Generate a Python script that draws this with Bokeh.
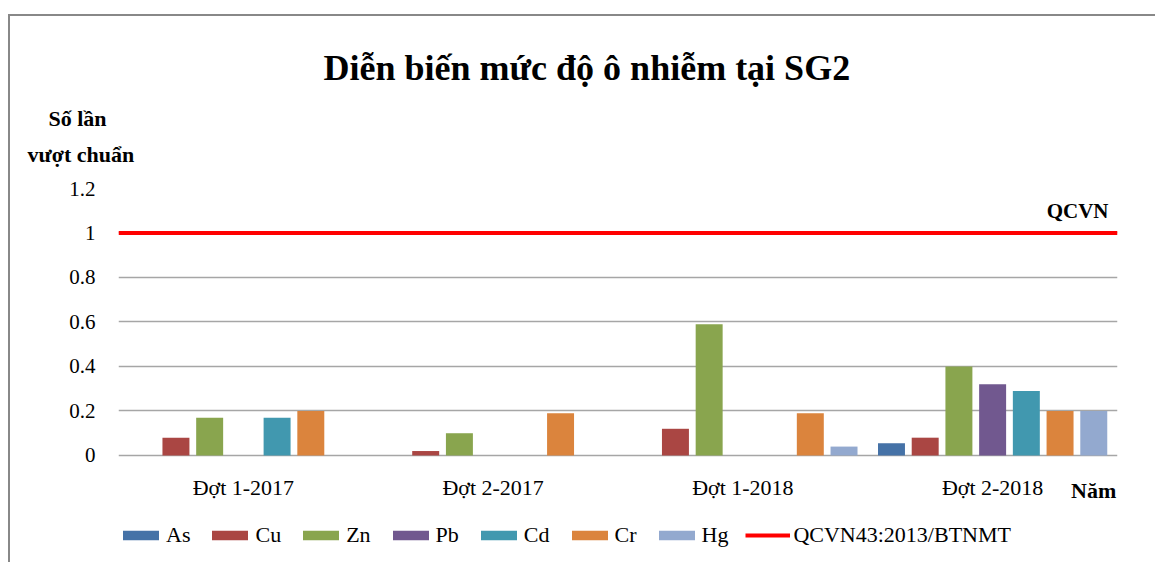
from bokeh.plotting import figure
from bokeh.models import Range1d, Legend, LegendItem, FixedTicker, ColumnDataSource, Title, Label
from bokeh.core.properties import value
from bokeh.transform import dodge
from bokeh.embed import file_html
from bokeh.resources import INLINE

# ---- data ----
periods = ["Đợt 1-2017", "Đợt 2-2017", "Đợt 1-2018", "Đợt 2-2018"]
metals = ["As", "Cu", "Zn", "Pb", "Cd", "Cr", "Hg"]
As = [0, 0, 0, 0.055]
Cu = [0.08, 0.02, 0.12, 0.08]
Zn = [0.17, 0.10, 0.59, 0.40]
Pb = [0, 0, 0, 0.32]
Cd = [0.17, 0, 0, 0.29]
Cr = [0.20, 0.19, 0.19, 0.20]
Hg = [0, 0, 0.04, 0.20]
qcvn = 1.0
qcvn_name = "QCVN43:2013/BTNMT"
y_ticks = [0, 0.2, 0.4, 0.6, 0.8, 1, 1.2]
y_tick_labels = ["0", "0.2", "0.4", "0.6", "0.8", "1", "1.2"]
colors = ["#4572A7", "#AA4643", "#89A54E", "#71588F", "#4198AF", "#DB843D", "#93A9CF"]

FONT = "Liberation Serif"
n = len(periods)
xc = [i + 0.5 for i in range(n)]  # category centres on the x scale

src = ColumnDataSource(dict(xc=xc, period=periods, As=As, Cu=Cu, Zn=Zn, Pb=Pb, Cd=Cd, Cr=Cr, Hg=Hg,
                            ly=[-0.144] * n))

# the frame reaches the bottom of the canvas so the category labels and the legend stay inside it
p = figure(x_range=Range1d(0, n), y_range=Range1d(-0.49, 1.2),
           width=1147, height=548, output_backend="svg", toolbar_location=None,
           x_axis_location=None,
           min_border_left=108, min_border_right=40, min_border_top=172, min_border_bottom=0)
p.styles = {"margin-left": "8px", "margin-top": "14px",
            "border-left": "2px solid #888888", "border-top": "2px solid #888888"}
p.outline_line_color = None

step = 0.135
bw = 0.108
renderers = []
for i, (m, c) in enumerate(zip(metals, colors)):
    r = p.vbar(x=dodge("xc", (i - 3) * step), top=m, width=bw,
               source=src, fill_color=c, line_color=None)
    renderers.append(r)

line_r = p.line(x=[0, n], y=[qcvn, qcvn], line_color="#FF0000", line_width=4)

# category labels under the baseline
p.text(x="xc", y="ly", text="period", source=src, text_font=value(FONT),
       text_font_size="22px", text_align="center", text_baseline="middle", text_color="#000000")

# y axis & grid
p.xgrid.visible = False
p.ygrid.grid_line_color = "#A6A6A6"
p.ygrid.grid_line_width = 1.5
p.yaxis.ticker = FixedTicker(ticks=y_ticks)
p.yaxis.major_label_overrides = dict(zip(y_ticks, y_tick_labels))
p.yaxis.axis_line_color = None
p.yaxis.major_tick_line_color = None
p.yaxis.minor_tick_line_color = None
p.yaxis.major_label_standoff = 17
p.yaxis.major_label_text_font = FONT
p.yaxis.major_label_text_font_size = "21px"
p.yaxis.major_label_text_color = "#000000"

# y-axis title lines (above panel, stacked outward from the frame)
yl2 = Title(text="vượt chuẩn", align="left", offset=-91, standoff=44,
            text_font=FONT, text_font_size="22px", text_font_style="bold", text_color="#000000")
yl1 = Title(text="Số lần", align="left", offset=-70, standoff=-26,
            text_font=FONT, text_font_size="22px", text_font_style="bold", text_color="#000000")
p.add_layout(yl2, "above")
p.add_layout(yl1, "above")

p.title.text = "Diễn biến mức độ ô nhiễm tại SG2"
p.title.align = "left"
p.title.offset = 205
p.title.standoff = 58
p.title.text_font = FONT
p.title.text_font_size = "36px"
p.title.text_font_style = "bold"
p.title.text_color = "#000000"

def lab(text, x, y, size, align):
    p.add_layout(Label(x=x, y=y, text=text, text_font=FONT, text_font_size=size,
                       text_font_style="bold", text_align=align,
                       text_baseline="middle", text_color="#000000"))

lab("QCVN", n - 0.036, qcvn + 0.10, "21px", "right")
lab("Năm", n - 0.005, -0.158, "22px", "right")

items = [LegendItem(label=m, renderers=[r]) for m, r in zip(metals, renderers)]
items.append(LegendItem(label=qcvn_name, renderers=[line_r]))
legend = Legend(items=items, orientation="horizontal", location=(0, 16),
                label_text_font=FONT, label_text_font_size="22px", label_text_color="#000000",
                glyph_width=45, glyph_height=12, label_standoff=3, spacing=17,
                padding=0, margin=0, border_line_color=None, background_fill_alpha=0)
p.add_layout(legend, "center")

open("out.html", "w").write(file_html(p, INLINE))
